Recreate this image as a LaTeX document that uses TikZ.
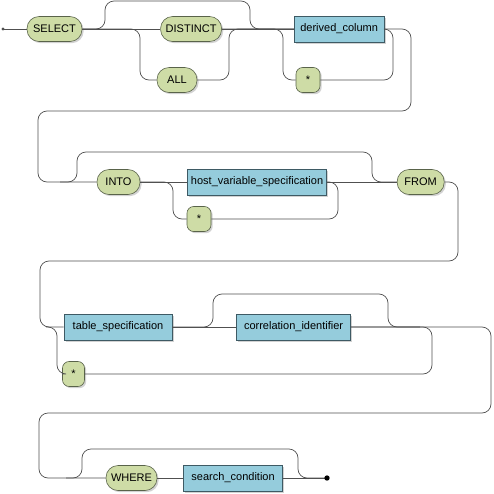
\documentclass[tikz,border=0pt]{standalone}
\usepackage{fontspec}
\setmainfont{Liberation Sans}
\usepackage{tikz}
\usetikzlibrary{positioning,shadows}
\definecolor{termfill}{HTML}{CEDCA6}
\definecolor{termdraw}{HTML}{59634A}
\definecolor{boxfill}{HTML}{95CCDC}
\definecolor{boxdraw}{HTML}{3E5A64}
\definecolor{railcol}{HTML}{505050}

\begin{document}
\begin{tikzpicture}[
  x=0.03cm, y=-0.03cm,
  font=\fontsize{9.4}{11}\selectfont,
  termbase/.style={draw=termdraw, fill=termfill, line width=0.5pt,
              minimum height=0.75cm, inner sep=0pt,
              drop shadow={shadow xshift=0.05cm, shadow yshift=-0.05cm, fill=black!35}},
  term/.style={termbase, rounded corners=0.36cm},
  starterm/.style={termbase, rounded corners=0.2cm, minimum width=0.72cm},
  nterm/.style={draw=boxdraw, fill=boxfill, line width=0.5pt,
              minimum height=0.78cm, inner sep=0pt,
              drop shadow={shadow xshift=0.05cm, shadow yshift=-0.05cm, fill=black!35}},
  rail/.style={draw=railcol, line width=0.6pt, rounded corners=0.27cm},
]
\useasboundingbox (0,0) rectangle (493,494);

\node[term, minimum width=1.65cm] (sel) at (54.5,29) {SELECT};
\node[term, minimum width=1.83cm, right=2.34cm of sel] (dist) {DISTINCT};
\node[nterm, minimum width=2.7cm, right=2.16cm of dist] (derived) {derived\_column};
\node[term, minimum width=1.2cm] (all) at (177,80) {ALL};
\node[starterm] (star1) at (308,80) {*};

\node[term, minimum width=1.29cm] (into) at (118.5,182) {INTO};
\node[nterm, minimum width=4.17cm, right=1.41cm of into] (host) {host\_variable\_specification};
\node[term, minimum width=1.41cm, right=2.1cm of host] (from) {FROM};
\node[starterm] (star2) at (199,219) {*};

\node[nterm, minimum width=3.24cm] (table) at (118,327) {table\_specification};
\node[nterm, minimum width=3.42cm, right=1.92cm of table] (corr) {correlation\_identifier};
\node[starterm, minimum width=0.66cm] (star3) at (73.5,374) {*};

\node[term, minimum width=1.53cm] (where) at (131.5,478) {WHERE};
\node[nterm, minimum width=2.97cm, right=0.78cm of where] (search) {search\_condition};

\coordinate (begin) at (3,29);
\coordinate (skipA) at (105,1);
\coordinate (skipB) at (250,1);
\coordinate (allL) at (140,80);
\coordinate (allR) at (229,80);
\coordinate (s1L) at (283,80);
\coordinate (s1R) at (393,80);
\coordinate (wrapA) at (411,111);
\coordinate (wrapB) at (38,111);
\coordinate (intoS) at (60,182);
\coordinate (intoA) at (77,152);
\coordinate (intoB) at (372,152);
\coordinate (s2L) at (173,219);
\coordinate (s2R) at (338,219);
\coordinate (wrapC) at (458,261);
\coordinate (wrapD) at (40,261);
\coordinate (tabS) at (46,327);
\coordinate (s3L) at (57,374);
\coordinate (s3R) at (432,374);
\coordinate (corrA) at (213,294);
\coordinate (corrB) at (388,294);
\coordinate (corrJ) at (420,327);
\coordinate (wrapE) at (491,413);
\coordinate (wrapF) at (39,413);
\coordinate (whereS) at (66,478);
\coordinate (whereA) at (82,449);
\coordinate (whereB) at (298,449);
\coordinate (fin) at (327,478);

\draw[rail] (begin) -- (sel);
\draw[rail] (sel) -- (dist);
\draw[rail] (dist) -- (derived);
\draw[rail] (sel.east) -| (skipA) -- (skipB) |- (derived.west);
\draw[rail] (sel.east) -| (allL) -- (all.west);
\draw[rail] (all.east) -- (allR) |- (derived.west);
\draw[rail] (dist.east) -| (s1L) -- (star1.west);
\draw[rail] (star1.east) -- (s1R) |- (derived.east);
\draw[rail] (derived.east) -| (wrapA) -- (wrapB) |- (into.west);

\draw[rail] (into) -- (host);
\draw[rail] (host) -- (from);
\draw[rail] (intoS) -| (intoA) -- (intoB) |- (from.west);
\draw[rail] (into.east) -| (s2L) -- (star2.west);
\draw[rail] (star2.east) -- (s2R) |- (host.east);
\draw[rail] (from.east) -| (wrapC) -- (wrapD) |- (table.west);

\draw[rail] (table) -- (corr);
\draw[rail] (tabS) -| (s3L) -- (star3.west);
\draw[rail] (star3.east) -- (s3R) |- (corr.east);
\draw[rail] (table.east) -| (corrA) -- (corrB) |- (corrJ);
\draw[rail] (corr.east) -| (wrapE) -- (wrapF) |- (where.west);

\draw[rail] (where) -- (search);
\draw[rail] (search) -- (fin);
\draw[rail] (whereS) -| (whereA) -- (whereB) |- (fin);

\fill[railcol] (begin) circle (0.05cm);
\fill[black] (fin) circle (0.08cm);
\end{tikzpicture}
\end{document}
